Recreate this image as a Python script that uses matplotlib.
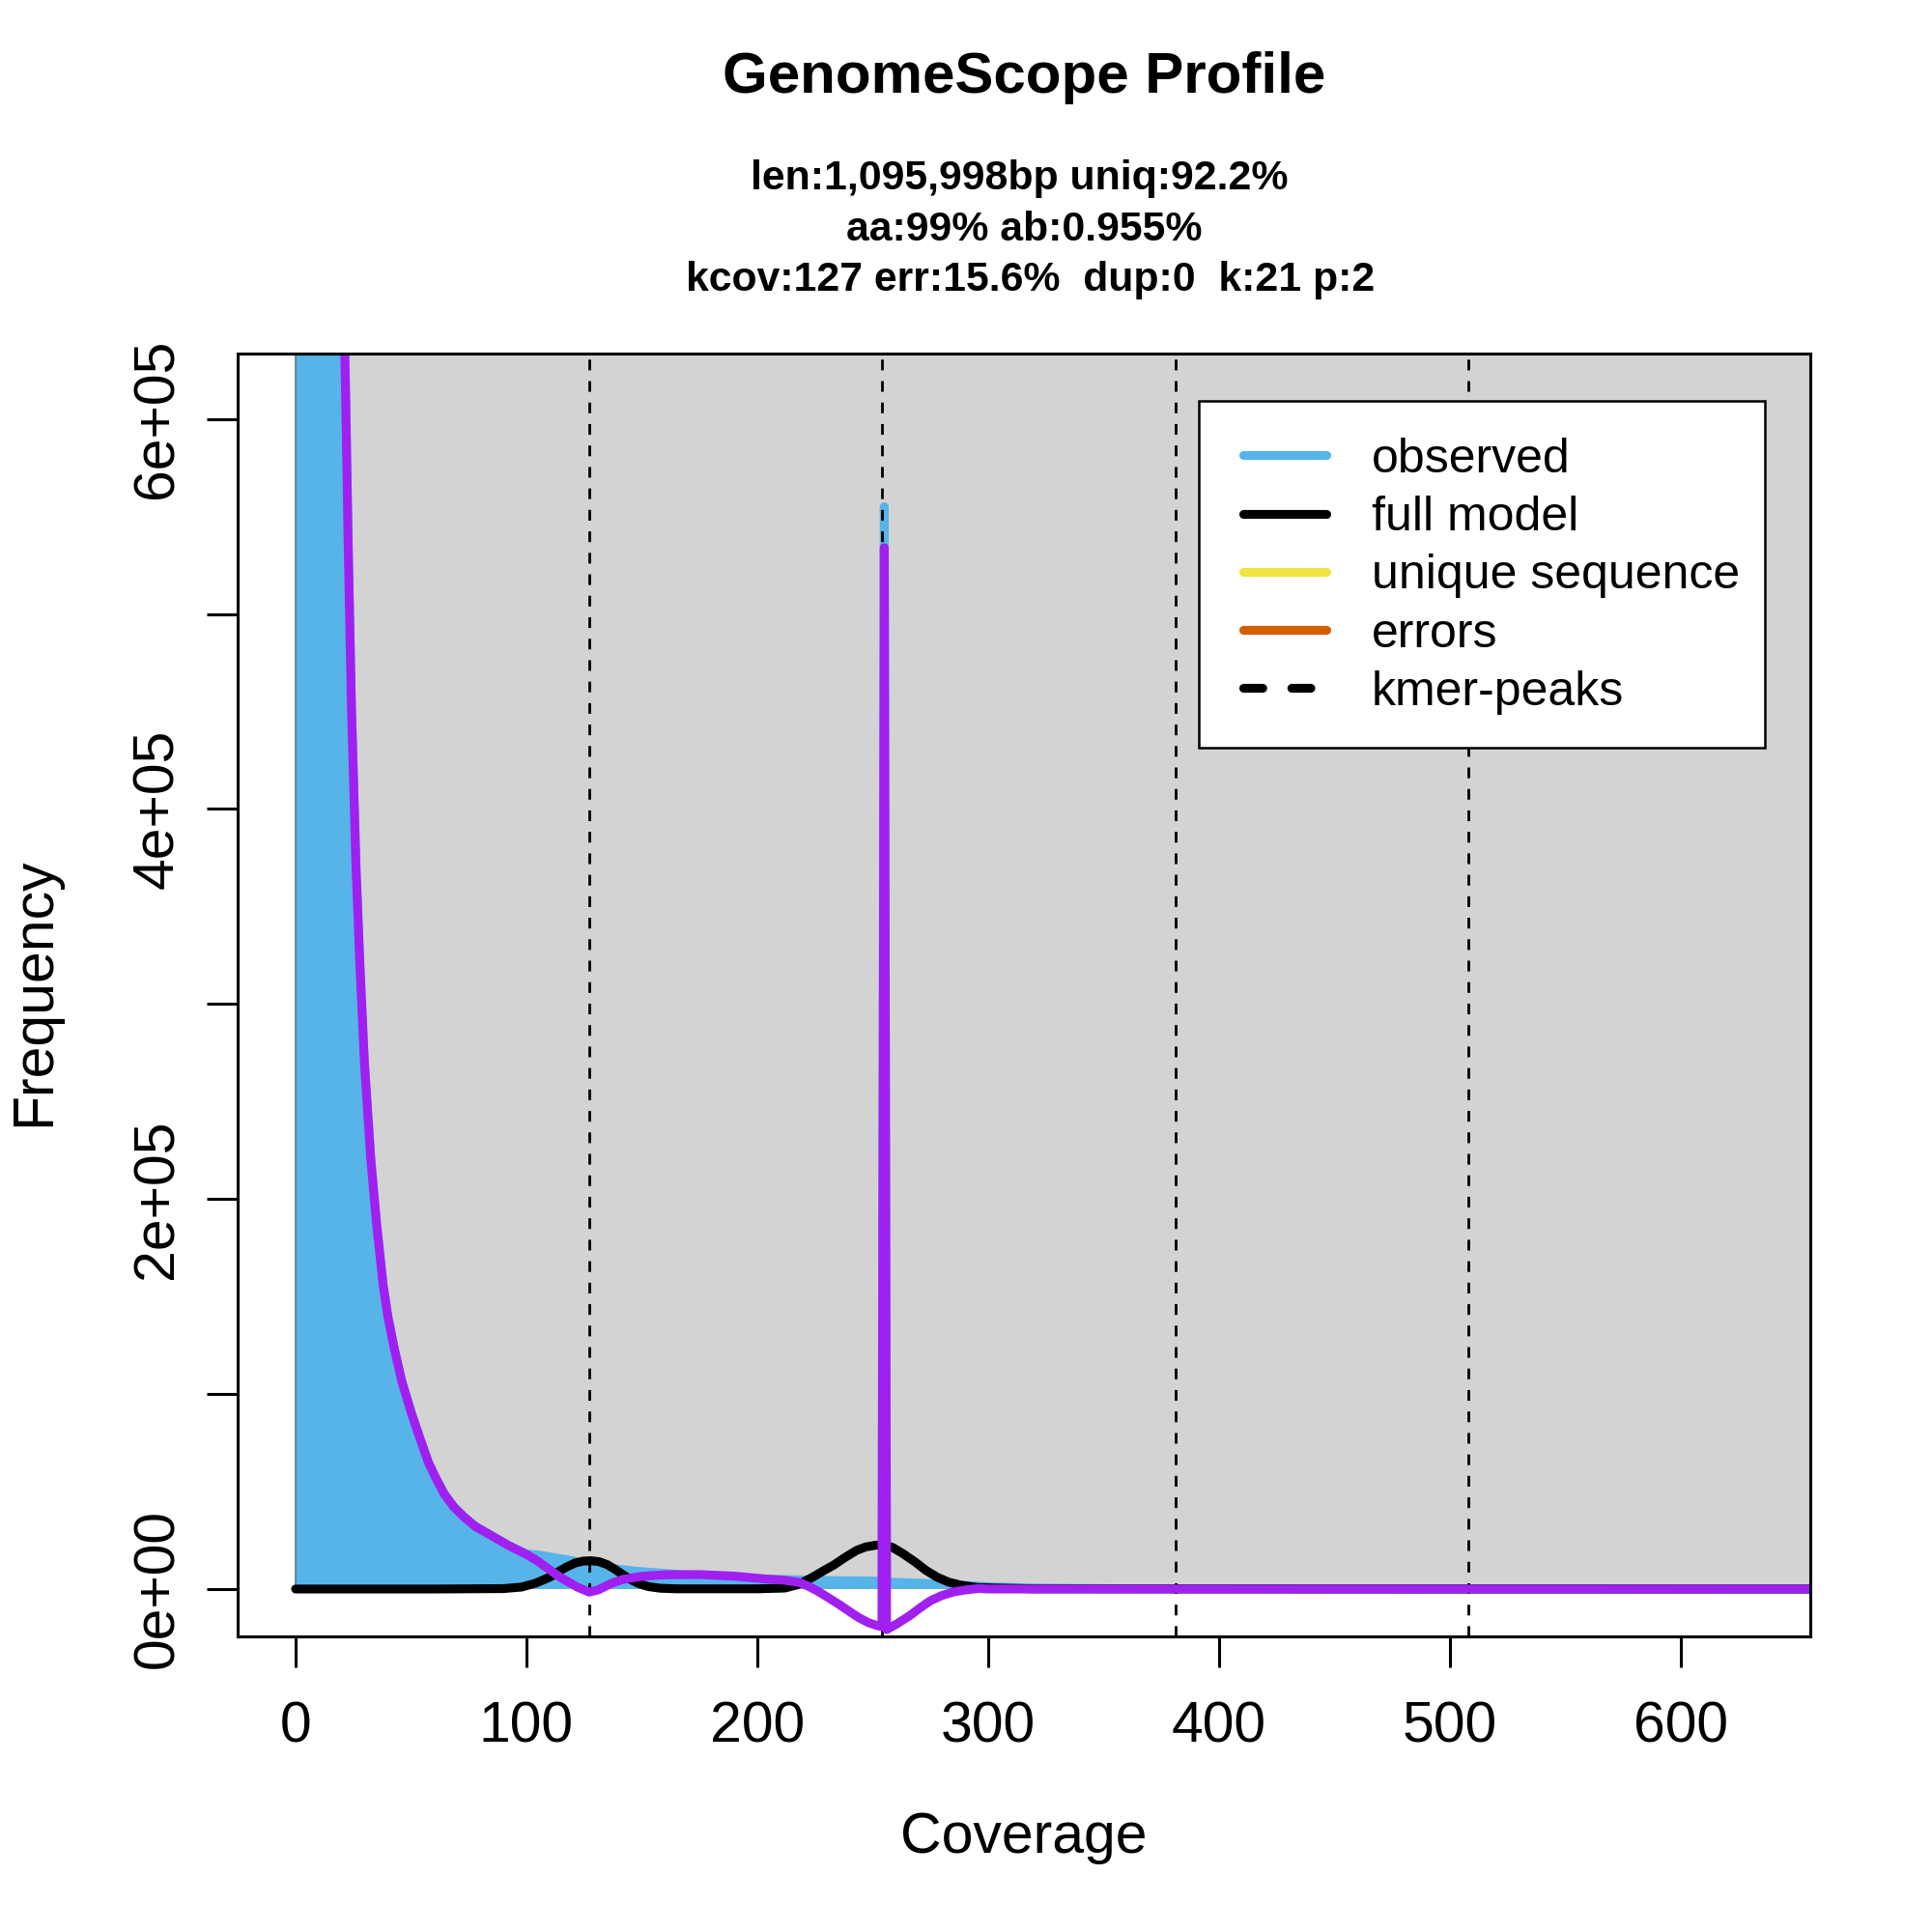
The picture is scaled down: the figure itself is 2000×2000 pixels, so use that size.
import matplotlib
matplotlib.use("Agg")
import matplotlib.pyplot as plt
from matplotlib.patches import Rectangle
from matplotlib.lines import Line2D

plt.rcParams['font.family'] = ['Liberation Sans', 'DejaVu Sans']

# ---------------- data ----------------
title = "GenomeScope Profile"
subtitle_lines = ["len:1,095,998bp uniq:92.2%",
                  "aa:99% ab:0.955%",
                  "kcov:127 err:15.6%  dup:0  k:21 p:2"]
kmer_peaks = [127, 254, 381, 508]

obs_x = [0, 1, 2, 4, 6, 8, 10, 12, 14, 16, 18, 19, 20, 21, 21.6, 22.8, 24.2, 26.2,
         27.9, 29.8, 32.6, 35.1, 37.9, 40.0, 42.8, 46.0, 50.2, 54.0, 57.5, 60.7,
         64.4, 68.6, 72.8, 77.7, 82.6, 92.3, 100, 105, 110, 120, 127, 136, 149,
         165, 180, 203, 218, 235, 250, 254, 255, 256, 260, 270, 285, 300, 320,
         350, 400, 500, 700]
obs_y = [3.2e6, 3.2e6, 2.9e6, 2.4e6, 2.0e6, 1.7e6, 1.45e6, 1.25e6, 1.08e6, 9.6e5,
         8.6e5, 8.0e5, 7.3e5, 6.6e5, 6.2e5, 5.35e5, 4.52e5, 3.69e5, 3.19e5, 2.70e5,
         2.20e5, 1.87e5, 1.56e5, 1.395e5, 1.23e5, 1.065e5, 9.0e4, 7.68e4, 6.5e4,
         5.7e4, 4.87e4, 4.2e4, 3.71e4, 3.22e4, 2.89e4, 2.23e4, 1.8e4, 1.75e4,
         1.65e4, 1.45e4, 1.25e4, 1.07e4, 9.0e3, 7.6e3, 6.6e3, 5.1e3, 4.7e3, 4.3e3,
         4.1e3, 4.0e3, 5.55e5, 3.6e3, 3.4e3, 3.0e3, 2.2e3, 1.2e3, 500, 200, 100,
         0, 0]

model_x = [0, 60, 90, 97.9, 104, 110.5, 114, 117.4, 121, 124.5, 128, 131.5, 135,
           138.5, 142, 145.5, 149, 153, 158, 165, 200, 212, 218, 224, 229, 233,
           238, 243, 247, 251.5, 255, 258.6, 263, 268.3, 273, 278, 283, 288, 295,
           303, 320, 700]
model_y = [0, 0, 200, 1000, 3000, 6300, 9000, 11300, 13300, 14300, 14500, 14000,
           12500, 10000, 7200, 4600, 2600, 1200, 400, 100, 100, 500, 2400, 6100,
           9600, 12200, 16200, 19800, 21600, 22500, 22500, 21300, 18200, 13900,
           9600, 6000, 3500, 2000, 800, 500, 100, 0]

purple_x = [19, 20, 21, 21.6, 22.8, 24.2, 26.2, 27.9, 29.8, 32.6, 35.1, 37.9, 40.0,
            42.8, 46.0, 50.2, 54.0, 57.5, 60.7, 64.4, 68.6, 72.8, 77.7, 82.6, 92.3,
            100.7, 105, 109.1, 113, 117.4, 122, 127.2, 131, 137, 142, 150, 160, 175,
            190, 203, 212, 218, 222, 226, 231, 235, 240, 244, 248, 252, 254, 255,
            256, 260, 266, 270, 275, 280, 285, 290, 296, 300, 700]
purple_y = [8.0e5, 7.2e5, 6.5e5, 6.17e5, 5.34e5, 4.52e5, 3.69e5, 3.19e5, 2.70e5,
            2.20e5, 1.87e5, 1.56e5, 1.395e5, 1.23e5, 1.065e5, 9.0e4, 7.68e4, 6.5e4,
            5.7e4, 4.87e4, 4.2e4, 3.71e4, 3.22e4, 2.89e4, 2.23e4, 1.73e4, 1.42e4,
            1.07e4, 7.3e3, 4.1e3, 1.0e3, -1.6e3, -500, 3.0e3, 5.0e3, 6.5e3, 7.3e3,
            7.4e3, 6.6e3, 5.2e3, 4.5e3, 3.4e3, 1.5e3, -1.0e3, -4.6e3, -7.6e3,
            -11.6e3, -14.7e3, -17.2e3, -18.8e3, -19.3e3, 5.34e5, -20.8e3, -18.2e3,
            -13.7e3, -10.1e3, -6.0e3, -3.3e3, -1.5e3, -500, 300, 0, 0]

legend_labels = ["observed", "full model", "unique sequence", "errors", "kmer-peaks"]
legend_colors = ["#56B4E9", "black", "#F0E442", "#D55E00", "black"]

y_ticks = [0, 1e5, 2e5, 3e5, 4e5, 5e5, 6e5]
y_tick_labels = ["0e+00", "", "2e+05", "", "4e+05", "", "6e+05"]
x_ticks = [0, 100, 200, 300, 400, 500, 600]

# ---------------- figure ----------------
LW = 3.3
fig = plt.figure(figsize=(10, 10), dpi=200)
ax = fig.add_axes([0.123, 0.153, 0.814, 0.664])
ax.set_xlim(-25.1, 656.1)
ax.set_ylim(-24300, 633500)

ax.add_patch(Rectangle((0, 0), 2000, 1e8, facecolor="#D3D3D3", edgecolor="none", zorder=0))

ax.fill_between(obs_x, obs_y, 0, color="#56B4E9", lw=0, zorder=1)
ax.plot([0, 0], [0, obs_y[0]], color="#5f7a8a", lw=0.6, zorder=1.5)
ax.plot(obs_x, obs_y, color="#56B4E9", lw=LW, solid_capstyle="round",
        solid_joinstyle="round", zorder=2)

ax.plot(model_x, model_y, color="black", lw=LW, solid_capstyle="round",
        solid_joinstyle="round", zorder=3)

for p in kmer_peaks:
    ax.axvline(p, color="black", lw=1.0, dashes=(4, 4), zorder=4)

ax.plot(purple_x, purple_y, color="#A020F0", lw=LW, solid_capstyle="round",
        solid_joinstyle="round", zorder=5)

for s in ax.spines.values():
    s.set_linewidth(1.1)
    s.set_zorder(10)

ax.set_xticks(x_ticks)
ax.set_xticklabels([str(v) for v in x_ticks])
ax.set_yticks(y_ticks)
ax.set_yticklabels(y_tick_labels, rotation=90, va="center")
ax.tick_params(axis="both", direction="out", length=11.5, width=1.1, labelsize=21.2)
ax.tick_params(axis="x", pad=12.5)
ax.tick_params(axis="y", pad=8.3)

# legend box (drawn separately to match the asymmetric padding)
ax.add_patch(Rectangle((0.6112, 0.6928), 0.9711 - 0.6112, 0.9631 - 0.6928,
                       transform=ax.transAxes, facecolor="white", edgecolor="black",
                       lw=0.9, zorder=19, clip_on=False))
handles = []
for lab, col in zip(legend_labels, legend_colors):
    if lab == "kmer-peaks":
        handles.append(Line2D([], [], color=col, lw=LW, dashes=(2.15, 3.28),
                              dash_capstyle="round"))
    else:
        handles.append(Line2D([], [], color=col, lw=LW, solid_capstyle="round"))
leg = ax.legend(handles, legend_labels, loc="upper left",
                bbox_to_anchor=(0.6392, 0.9345), borderaxespad=0,
                fontsize=18, frameon=False, handlelength=1.73,
                handletextpad=0.94, labelspacing=0.285, borderpad=0)
leg.set_zorder(20)

fig.text(0.53, 1 - 81 / 2000, title, ha="center", va="center",
         fontsize=21.6, fontweight="bold")
for line, xx, yy in zip(subtitle_lines, [0.5274, 0.530, 0.5332], [185, 238, 290]):
    fig.text(xx, 1 - yy / 2000, line, ha="center", va="center",
             fontsize=15.4, fontweight="bold")

fig.text(1060 / 2000, 1 - 1903 / 2000, "Coverage", ha="center", va="center",
         fontsize=21.2)
fig.text(36 / 2000, 1 - 1027 / 2000, "Frequency", ha="center", va="center",
         rotation=90, fontsize=21.2)

fig.savefig("out.png", dpi=200)
